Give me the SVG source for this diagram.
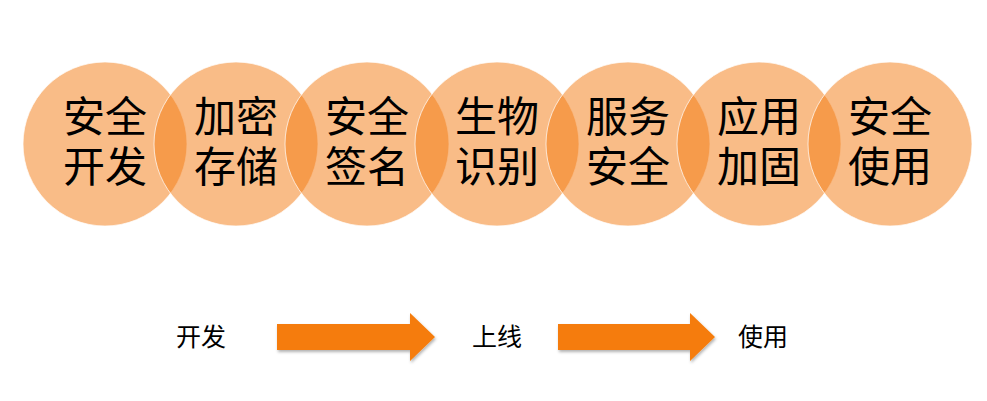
<svg xmlns="http://www.w3.org/2000/svg" width="987" height="401" viewBox="0 0 987 401">
<defs>
<style>
.c{fill:#F47A10;fill-opacity:0.5;stroke:#ffffff;stroke-opacity:0.7;stroke-width:1}
.t{font-family:"Noto Sans CJK SC","Noto Sans",sans-serif;font-size:42px;fill:#000;text-anchor:middle}
.s{font-family:"Noto Sans CJK SC","Noto Sans",sans-serif;font-size:25px;fill:#000;text-anchor:middle}
.a{fill:#F57C0A}
</style>
<filter id="sh" x="-10%" y="-20%" width="130%" height="150%">
<feDropShadow dx="1" dy="2" stdDeviation="1.5" flood-color="#000" flood-opacity="0.3"/>
</filter>
</defs>
<rect width="987" height="401" fill="#fff"/>
<g id="n1"><circle class="c" cx="105" cy="144" r="82"/><text class="t" x="105" y="132">安全</text><text class="t" x="105" y="182">开发</text></g>
<g id="n2"><circle class="c" cx="236" cy="144" r="82"/><text class="t" x="236" y="132">加密</text><text class="t" x="236" y="182">存储</text></g>
<g id="n3"><circle class="c" cx="367" cy="144" r="82"/><text class="t" x="367" y="132">安全</text><text class="t" x="367" y="182">签名</text></g>
<g id="n4"><circle class="c" cx="497" cy="144" r="82"/><text class="t" x="497" y="132">生物</text><text class="t" x="497" y="182">识别</text></g>
<g id="n5"><circle class="c" cx="628" cy="144" r="82"/><text class="t" x="628" y="132">服务</text><text class="t" x="628" y="182">安全</text></g>
<g id="n6"><circle class="c" cx="759" cy="144" r="82"/><text class="t" x="759" y="132">应用</text><text class="t" x="759" y="182">加固</text></g>
<g id="n7"><circle class="c" cx="890" cy="144" r="82"/><text class="t" x="890" y="132">安全</text><text class="t" x="890" y="182">使用</text></g>
<g id="l1"><text class="s" x="201" y="346">开发</text></g>
<g id="l2"><text class="s" x="497" y="346">上线</text></g>
<g id="l3"><text class="s" x="763" y="346">使用</text></g>
<g id="connectors" filter="url(#sh)">
<path class="a" d="M277,324 H410 V313 L435,337 L410,361 V350 H277 Z"/>
<path class="a" d="M558,324 H690 V313 L715,337 L690,361 V350 H558 Z"/>
</g>
</svg>
